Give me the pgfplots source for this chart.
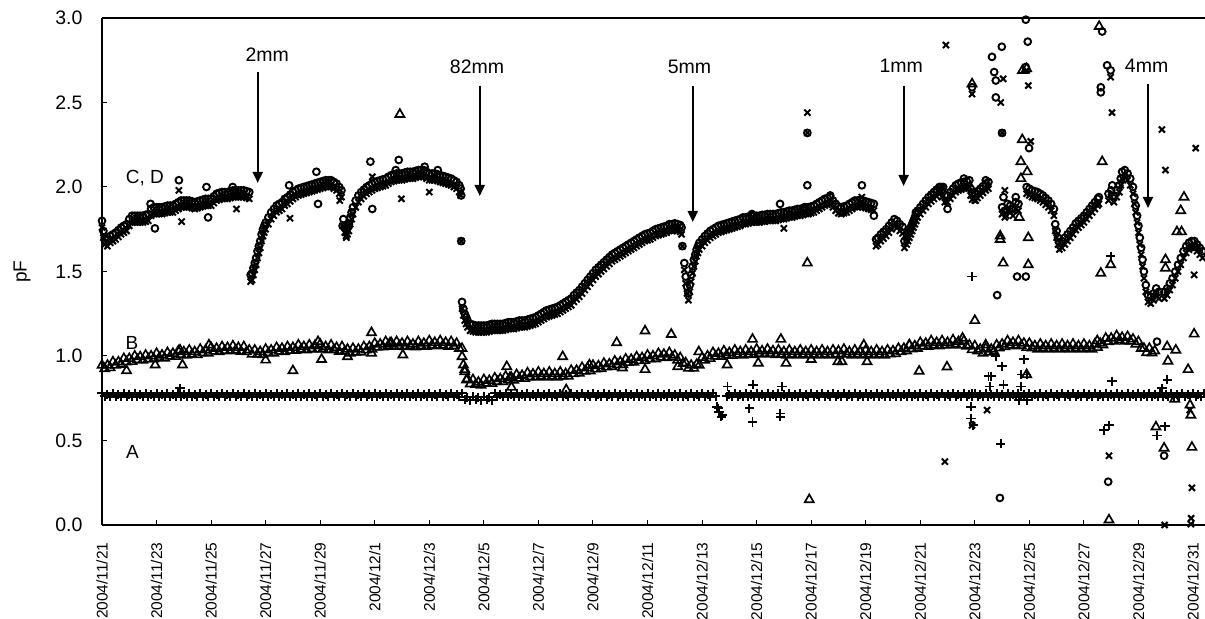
\documentclass[border=0pt]{standalone}
\usepackage{fontspec}
\setmainfont{Liberation Sans}
\usepackage{pgfplots}
\pgfplotsset{compat=1.18}
\usepackage{pgfplotstable}
\usetikzlibrary{calc,arrows.meta}

\pgfplotstableread{
t A B
0.0 0.780 0.945
0.1 0.762 0.925
0.2 0.775 0.945
0.3 0.758 0.930
0.4 0.780 0.965
0.5 0.762 0.945
0.6 0.775 0.965
0.7 0.758 0.950
0.8 0.780 0.985
0.9 0.762 0.965
1.0 0.775 0.985
1.1 0.758 0.967
1.2 0.780 1.000
1.3 0.762 0.978
1.4 0.775 0.995
1.5 0.758 0.975
1.6 0.780 1.005
1.7 0.762 0.982
1.8 0.775 1.000
1.9 0.758 0.983
2.0 0.780 1.015
2.1 0.762 0.990
2.2 0.775 1.005
2.3 0.758 0.987
2.4 0.780 1.020
2.5 0.762 0.998
2.6 0.775 1.015
2.7 0.758 0.997
2.8 0.780 1.030
2.9 0.762 1.008
3.0 0.775 1.025
3.1 0.758 1.005
3.2 0.780 1.035
3.3 0.762 1.010
3.4 0.775 1.025
3.5 0.758 1.007
3.6 0.780 1.040
3.7 0.762 1.018
3.8 0.775 1.035
3.9 0.758 1.017
4.0 0.780 1.050
4.1 0.762 1.028
4.2 0.775 1.045
4.3 0.758 1.025
4.4 0.780 1.055
4.5 0.762 1.032
4.6 0.775 1.050
4.7 0.758 1.030
4.8 0.780 1.060
4.9 0.762 1.035
5.0 0.775 1.050
5.1 0.758 1.027
5.2 0.780 1.055
5.3 0.762 1.025
5.4 0.775 1.035
5.5 0.758 1.010
5.6 0.780 1.035
5.7 0.762 1.010
5.8 0.775 1.025
5.9 0.758 1.007
6.0 0.780 1.040
6.1 0.762 1.018
6.2 0.775 1.035
6.3 0.758 1.017
6.4 0.780 1.050
6.5 0.762 1.028
6.6 0.775 1.045
6.7 0.758 1.025
6.8 0.780 1.055
6.9 0.762 1.032
7.0 0.775 1.050
7.1 0.758 1.033
7.2 0.780 1.065
7.3 0.762 1.040
7.4 0.775 1.055
7.5 0.758 1.035
7.6 0.780 1.065
7.7 0.762 1.042
7.8 0.775 1.060
7.9 0.758 1.040
8.0 0.780 1.070
8.1 0.762 1.042
8.2 0.775 1.055
8.3 0.758 1.035
8.4 0.780 1.065
8.5 0.762 1.038
8.6 0.775 1.050
8.7 0.758 1.027
8.8 0.780 1.055
8.9 0.762 1.028
9.0 0.775 1.040
9.1 0.758 1.017
9.2 0.780 1.045
9.3 0.762 1.022
9.4 0.775 1.040
9.5 0.758 1.023
9.6 0.780 1.055
9.7 0.762 1.035
9.8 0.775 1.055
9.9 0.758 1.040
10.0 0.780 1.075
10.1 0.762 1.052
10.2 0.775 1.070
10.3 0.758 1.053
10.4 0.780 1.085
10.5 0.762 1.062
10.6 0.775 1.080
10.7 0.758 1.057
10.8 0.780 1.085
10.9 0.762 1.060
11.0 0.775 1.075
11.1 0.758 1.055
11.2 0.780 1.085
11.3 0.762 1.058
11.4 0.775 1.070
11.5 0.758 1.053
11.6 0.780 1.085
11.7 0.762 1.060
11.8 0.775 1.075
11.9 0.758 1.057
12.0 0.780 1.090
12.1 0.762 1.065
12.2 0.775 1.080
12.3 0.758 1.060
12.4 0.780 1.090
12.5 0.762 1.065
12.6 0.775 1.080
12.7 0.758 1.057
12.8 0.780 1.085
12.9 0.762 1.060
13.0 0.775 1.075
13.1 0.758 1.045
13.2 0.780 1.045
13.3 0.742 0.920
13.4 0.755 0.865
13.5 0.738 0.835
13.6 0.760 0.860
13.7 0.742 0.832
13.8 0.755 0.845
13.9 0.738 0.827
14.0 0.760 0.860
14.1 0.742 0.838
14.2 0.755 0.855
14.3 0.738 0.837
14.4 0.780 0.870
14.5 0.762 0.848
14.6 0.775 0.865
14.7 0.758 0.847
14.8 0.780 0.880
14.9 0.762 0.858
15.0 0.775 0.875
15.1 0.758 0.857
15.2 0.780 0.890
15.3 0.762 0.868
15.4 0.775 0.885
15.5 0.758 0.867
15.6 0.780 0.900
15.7 0.762 0.876
15.8 0.775 0.893
15.9 0.758 0.874
16.0 0.780 0.905
16.1 0.762 0.880
16.2 0.775 0.895
16.3 0.758 0.875
16.4 0.780 0.905
16.5 0.762 0.880
16.6 0.775 0.895
16.7 0.758 0.875
16.8 0.780 0.905
16.9 0.762 0.880
17.0 0.775 0.895
17.1 0.758 0.880
17.2 0.780 0.915
17.3 0.762 0.895
17.4 0.775 0.915
17.5 0.758 0.898
17.6 0.780 0.932
17.7 0.762 0.910
17.8 0.775 0.929
17.9 0.758 0.912
18.0 0.780 0.945
18.1 0.762 0.923
18.2 0.775 0.942
18.3 0.758 0.925
18.4 0.780 0.957
18.5 0.762 0.935
18.6 0.775 0.953
18.7 0.758 0.937
18.8 0.780 0.970
18.9 0.762 0.948
19.0 0.775 0.965
19.1 0.758 0.948
19.2 0.780 0.982
19.3 0.762 0.961
19.4 0.775 0.980
19.5 0.758 0.963
19.6 0.780 0.995
19.7 0.762 0.972
19.8 0.775 0.990
19.9 0.758 0.973
20.0 0.780 1.005
20.1 0.762 0.982
20.2 0.775 1.000
20.3 0.758 0.983
20.4 0.780 1.015
20.5 0.762 0.992
20.6 0.775 1.010
20.7 0.758 0.990
20.8 0.780 1.020
20.9 0.762 0.992
21.0 0.775 1.005
21.1 0.758 0.975
21.2 0.780 0.990
21.3 0.762 0.955
21.4 0.775 0.960
21.5 0.758 0.927
21.6 0.780 0.945
21.7 0.762 0.927
21.8 0.775 0.950
21.9 0.758 0.945
22.0 0.780 0.990
22.1 0.762 0.975
22.2 0.775 1.000
22.3 0.758 0.985
22.4 0.780 1.020
22.5 0.762 0.998
22.6 nan 1.015
22.7 nan 0.997
22.8 nan 1.030
22.9 0.762 1.005
23.0 0.775 1.020
23.1 0.758 1.003
23.2 0.780 1.035
23.3 0.762 1.010
23.4 0.775 1.025
23.5 0.758 1.005
23.6 0.780 1.035
23.7 0.762 1.010
23.8 0.775 1.025
23.9 0.758 1.007
24.0 0.780 1.040
24.1 0.762 1.015
24.2 0.775 1.030
24.3 0.758 1.010
24.4 0.780 1.040
24.5 0.762 1.015
24.6 0.775 1.030
24.7 0.758 1.007
24.8 0.780 1.035
24.9 0.762 1.010
25.0 0.775 1.025
25.1 0.758 1.005
25.2 0.780 1.035
25.3 0.762 1.010
25.4 0.775 1.025
25.5 0.758 1.005
25.6 0.780 1.035
25.7 0.762 1.010
25.8 0.775 1.025
25.9 0.758 1.005
26.0 0.780 1.035
26.1 0.762 1.010
26.2 0.775 1.025
26.3 0.758 1.005
26.4 0.780 1.035
26.5 0.762 1.010
26.6 0.775 1.025
26.7 0.758 1.005
26.8 0.780 1.035
26.9 0.762 1.010
27.0 0.775 1.030
27.1 0.758 1.010
27.2 0.780 1.040
27.3 0.762 1.012
27.4 0.775 1.025
27.5 0.758 1.005
27.6 0.780 1.035
27.7 0.762 1.010
27.8 0.775 1.025
27.9 0.758 1.005
28.0 0.780 1.035
28.1 0.762 1.010
28.2 0.775 1.025
28.3 0.758 1.005
28.4 0.780 1.035
28.5 0.762 1.010
28.6 0.775 1.025
28.7 0.758 1.005
28.8 0.780 1.035
28.9 0.762 1.012
29.0 0.775 1.030
29.1 0.758 1.013
29.2 0.780 1.045
29.3 0.762 1.025
29.4 0.775 1.045
29.5 0.758 1.030
29.6 0.780 1.065
29.7 0.762 1.042
29.8 0.775 1.060
29.9 0.758 1.045
30.0 0.780 1.080
30.1 0.762 1.058
30.2 0.775 1.075
30.3 0.758 1.057
30.4 0.780 1.090
30.5 0.762 1.065
30.6 0.775 1.080
30.7 0.758 1.060
30.8 0.780 1.090
30.9 0.762 1.065
31.0 0.775 1.080
31.1 0.758 1.063
31.2 0.780 1.095
31.3 0.762 1.070
31.4 0.775 1.085
31.5 0.758 1.063
31.6 0.780 1.090
31.7 0.762 1.058
31.8 0.775 1.065
31.9 0.758 1.037
32.0 0.780 1.060
32.1 0.762 1.030
32.2 0.775 1.040
32.3 0.758 1.017
32.4 0.780 1.045
32.5 0.762 1.022
32.6 0.775 1.040
32.7 0.758 1.027
32.8 0.780 1.065
32.9 0.762 1.048
33.0 0.775 1.070
33.1 0.758 1.055
33.2 0.780 1.090
33.3 0.762 1.065
33.4 0.775 1.080
33.5 0.758 1.060
33.6 0.780 1.090
33.7 0.762 1.062
33.8 0.775 1.075
33.9 0.758 1.050
34.0 0.780 1.075
34.1 0.762 1.048
34.2 0.775 1.060
34.3 0.758 1.040
34.4 0.780 1.070
34.5 0.762 1.045
34.6 0.775 1.060
34.7 0.758 1.040
34.8 0.780 1.070
34.9 0.762 1.045
35.0 0.775 1.060
35.1 0.758 1.040
35.2 0.780 1.070
35.3 0.762 1.045
35.4 0.775 1.060
35.5 0.758 1.040
35.6 0.780 1.070
35.7 0.762 1.045
35.8 0.775 1.060
35.9 0.758 1.040
36.0 0.780 1.070
36.1 0.762 1.045
36.2 0.775 1.060
36.3 0.758 1.040
36.4 0.780 1.070
36.5 0.762 1.050
36.6 0.775 1.075
36.7 0.758 1.065
36.8 0.780 1.105
36.9 0.762 1.085
37.0 0.775 1.105
37.1 0.758 1.087
37.2 0.780 1.120
37.3 0.762 1.095
37.4 0.775 1.110
37.5 0.758 1.087
37.6 0.780 1.115
37.7 0.762 1.088
37.8 0.775 1.100
37.9 0.758 1.070
38.0 0.780 1.085
38.1 0.762 1.045
38.2 0.775 1.045
38.3 0.758 1.020
38.4 0.780 1.045
38.5 0.762 1.018
38.6 0.775 1.030
38.7 0.758 nan
38.8 0.780 nan
38.9 0.762 nan
39.0 0.775 nan
39.1 0.758 nan
39.2 0.780 nan
39.3 0.762 nan
39.4 0.775 nan
39.5 0.758 nan
39.6 0.780 nan
39.7 0.762 nan
39.8 0.775 nan
39.9 0.758 nan
40.0 0.780 nan
40.1 0.762 nan
40.2 0.775 nan
40.3 0.758 nan
40.4 0.780 nan
}\abtab

\pgfplotstableread{
t C D
0.00 1.80 1.76
0.05 1.74 1.70
0.10 1.70 1.66
0.20 1.69 1.65
0.30 1.71 1.67
0.40 1.72 1.68
0.50 1.73 1.69
0.60 1.745 1.705
0.70 1.76 1.72
0.80 1.77 1.73
0.90 1.78 1.74
1.00 1.81 1.77
1.10 1.83 1.79
1.20 1.83 1.79
1.30 1.83 1.79
1.40 1.83 1.79
1.50 1.83 1.79
1.60 1.835 1.795
1.70 1.84 1.80
1.80 1.87 1.83
1.90 1.88 1.84
2.00 1.88 1.84
2.10 1.88 1.84
2.20 1.88 1.84
2.30 1.885 1.845
2.40 1.89 1.85
2.50 1.89 1.85
2.60 1.89 1.85
2.70 1.90 1.86
2.80 1.91 1.87
2.90 1.92 1.88
3.00 1.92 1.88
3.10 1.92 1.88
3.20 1.92 1.88
3.30 1.915 1.875
3.40 1.91 1.87
3.50 1.915 1.875
3.60 1.92 1.88
3.70 1.925 1.885
3.80 1.93 1.89
3.90 1.93 1.89
4.00 1.93 1.89
4.10 1.945 1.905
4.20 1.96 1.92
4.30 1.965 1.925
4.40 1.97 1.93
4.50 1.97 1.93
4.60 1.97 1.93
4.70 1.975 1.935
4.80 1.98 1.94
4.90 1.98 1.94
5.00 1.98 1.94
5.10 1.98 1.94
5.20 1.98 1.94
5.30 1.975 1.935
5.40 1.97 1.93
5.45 1.48 1.44
5.50 1.49 1.45
5.55 1.52 1.48
5.60 1.55 1.51
5.65 1.58 1.54
5.70 1.62 1.58
5.75 1.65 1.61
5.80 1.68 1.64
5.85 1.72 1.68
5.90 1.75 1.71
5.95 1.77 1.73
6.00 1.79 1.75
6.10 1.82 1.78
6.20 1.85 1.81
6.30 1.87 1.83
6.40 1.89 1.85
6.50 1.90 1.86
6.60 1.91 1.87
6.70 1.93 1.89
6.80 1.94 1.90
6.90 1.955 1.915
7.00 1.97 1.93
7.10 1.98 1.94
7.20 1.99 1.95
7.30 1.995 1.955
7.40 2.00 1.96
7.50 2.005 1.965
7.60 2.01 1.97
7.70 2.015 1.975
7.80 2.02 1.98
7.90 2.025 1.985
8.00 2.03 1.99
8.10 2.035 1.995
8.20 2.04 2.00
8.30 2.04 2.00
8.40 2.04 2.00
8.50 2.03 1.99
8.60 2.02 1.98
8.70 2.00 1.96
8.78 1.98 1.94
8.85 1.81 1.77
8.90 1.77 1.73
8.95 1.75 1.71
9.00 1.76 1.72
9.05 1.78 1.74
9.10 1.82 1.78
9.15 1.85 1.81
9.20 1.88 1.84
9.30 1.92 1.88
9.40 1.95 1.91
9.50 1.97 1.93
9.60 1.985 1.945
9.70 2.00 1.96
9.80 2.01 1.97
9.90 2.02 1.98
10.0 2.03 1.99
10.1 2.035 1.995
10.2 2.04 2.00
10.3 2.045 2.005
10.4 2.05 2.01
10.5 2.06 2.02
10.6 2.07 2.03
10.7 2.075 2.035
10.8 2.08 2.04
10.9 2.08 2.04
11.0 2.08 2.04
11.1 2.085 2.045
11.2 2.09 2.05
11.3 2.09 2.05
11.4 2.09 2.05
11.5 2.095 2.055
11.6 2.10 2.06
11.7 2.10 2.06
11.8 2.10 2.06
11.9 2.09 2.05
12.0 2.08 2.04
12.1 2.08 2.04
12.2 2.08 2.04
12.3 2.075 2.035
12.4 2.07 2.03
12.5 2.065 2.025
12.6 2.06 2.02
12.7 2.055 2.015
12.8 2.05 2.01
12.9 2.04 2.00
13.0 2.03 1.99
13.1 2.01 1.97
13.15 1.99 1.95
13.20 1.32 1.28
13.25 1.28 1.24
13.30 1.25 1.21
13.35 1.23 1.19
13.40 1.21 1.17
13.50 1.19 1.15
13.60 1.185 1.145
13.70 1.18 1.14
13.80 1.18 1.14
13.90 1.18 1.14
14.0 1.18 1.14
14.1 1.18 1.14
14.2 1.185 1.145
14.3 1.19 1.15
14.4 1.19 1.15
14.5 1.19 1.15
14.6 1.19 1.15
14.7 1.19 1.15
14.8 1.195 1.155
14.9 1.20 1.16
15.0 1.20 1.16
15.1 1.20 1.16
15.2 1.205 1.165
15.3 1.21 1.17
15.4 1.21 1.17
15.5 1.21 1.17
15.6 1.215 1.175
15.7 1.22 1.18
15.8 1.225 1.185
15.9 1.23 1.19
16.0 1.24 1.20
16.1 1.25 1.21
16.2 1.26 1.22
16.3 1.27 1.23
16.4 1.275 1.235
16.5 1.28 1.24
16.6 1.285 1.245
16.7 1.29 1.25
16.8 1.30 1.26
16.9 1.31 1.27
17.0 1.32 1.28
17.1 1.33 1.29
17.2 1.34 1.30
17.3 1.36 1.32
17.4 1.375 1.335
17.5 1.39 1.35
17.6 1.41 1.37
17.7 1.43 1.39
17.8 1.45 1.41
17.9 1.47 1.43
18.0 1.49 1.45
18.1 1.51 1.47
18.2 1.525 1.485
18.3 1.54 1.50
18.4 1.555 1.515
18.5 1.57 1.53
18.6 1.585 1.545
18.7 1.60 1.56
18.8 1.61 1.57
18.9 1.62 1.58
19.0 1.63 1.59
19.1 1.64 1.60
19.2 1.65 1.61
19.3 1.66 1.62
19.4 1.67 1.63
19.5 1.68 1.64
19.6 1.69 1.65
19.7 1.70 1.66
19.8 1.71 1.67
19.9 1.72 1.68
20.0 1.725 1.685
20.1 1.73 1.69
20.2 1.74 1.70
20.3 1.75 1.71
20.4 1.755 1.715
20.5 1.76 1.72
20.6 1.765 1.725
20.7 1.77 1.73
20.8 1.78 1.74
20.9 1.78 1.74
21.0 1.785 1.745
21.1 1.78 1.74
21.2 1.775 1.735
21.25 1.76 1.72
21.35 1.55 1.51
21.40 1.47 1.43
21.45 1.41 1.37
21.50 1.37 1.33
21.55 1.42 1.38
21.60 1.48 1.44
21.65 1.53 1.49
21.70 1.57 1.53
21.75 1.60 1.56
21.80 1.63 1.59
21.85 1.65 1.61
21.90 1.67 1.63
22.00 1.69 1.65
22.10 1.71 1.67
22.20 1.725 1.685
22.30 1.74 1.70
22.40 1.75 1.71
22.50 1.76 1.72
22.60 1.77 1.73
22.70 1.775 1.735
22.80 1.78 1.74
22.90 1.785 1.745
23.0 1.79 1.75
23.1 1.795 1.755
23.2 1.80 1.76
23.3 1.805 1.765
23.4 1.81 1.77
23.5 1.82 1.78
23.6 1.82 1.78
23.7 1.825 1.785
23.8 1.83 1.79
23.9 1.83 1.79
24.0 1.83 1.79
24.1 1.83 1.79
24.2 1.835 1.795
24.3 1.835 1.795
24.4 1.84 1.80
24.5 1.84 1.80
24.6 1.84 1.80
24.7 1.84 1.80
24.8 1.845 1.805
24.9 1.85 1.81
25.0 1.85 1.81
25.1 1.855 1.815
25.2 1.86 1.82
25.3 1.86 1.82
25.4 1.865 1.825
25.5 1.87 1.83
25.6 1.87 1.83
25.7 1.875 1.835
25.8 1.88 1.84
25.9 1.88 1.84
26.0 1.885 1.845
26.1 1.89 1.85
26.2 1.90 1.86
26.3 1.91 1.87
26.4 1.92 1.88
26.5 1.93 1.89
26.6 1.935 1.895
26.7 1.94 1.90
26.8 1.92 1.88
26.9 1.90 1.86
27.0 1.885 1.845
27.1 1.88 1.84
27.2 1.885 1.845
27.3 1.89 1.85
27.4 1.90 1.86
27.5 1.91 1.87
27.6 1.92 1.88
27.7 1.92 1.88
27.8 1.925 1.885
27.9 1.92 1.88
28.0 1.915 1.875
28.1 1.91 1.87
28.2 1.905 1.865
28.3 1.90 1.86
28.38 1.69 1.65
28.45 1.70 1.66
28.55 1.72 1.68
28.65 1.735 1.695
28.75 1.75 1.71
28.85 1.77 1.73
28.95 1.79 1.75
29.05 1.81 1.77
29.15 1.80 1.76
29.25 1.78 1.74
29.35 1.765 1.725
29.42 1.68 1.64
29.50 1.70 1.66
29.55 1.72 1.68
29.60 1.74 1.70
29.65 1.76 1.72
29.70 1.78 1.74
29.75 1.80 1.76
29.80 1.82 1.78
29.85 1.84 1.80
29.90 1.86 1.82
30.00 1.88 1.84
30.10 1.90 1.86
30.20 1.92 1.88
30.30 1.94 1.90
30.40 1.955 1.915
30.50 1.97 1.93
30.60 1.985 1.945
30.70 2.00 1.96
30.80 1.98 1.94
30.90 1.95 1.91
31.00 1.95 1.91
31.10 1.97 1.93
31.20 1.99 1.95
31.30 2.01 1.97
31.40 2.02 1.98
31.50 2.025 1.985
31.60 2.03 1.99
31.70 2.035 1.995
31.80 2.04 2.00
31.85 1.99 1.95
31.90 1.965 1.925
32.00 1.96 1.92
32.10 1.975 1.935
32.20 1.99 1.95
32.30 2.005 1.965
32.40 2.02 1.98
32.50 2.03 1.99
33.00 1.88 1.84
33.10 1.86 1.82
33.20 1.90 1.86
33.30 1.89 1.85
33.40 1.87 1.83
33.50 1.91 1.87
33.60 1.90 1.86
33.90 2.00 1.96
34.00 1.99 1.95
34.10 1.98 1.94
34.20 1.975 1.935
34.30 1.97 1.93
34.40 1.96 1.92
34.50 1.95 1.91
34.60 1.935 1.895
34.70 1.92 1.88
34.80 1.90 1.86
34.90 1.87 1.83
34.95 1.78 1.74
35.00 1.74 1.70
35.05 1.70 1.66
35.10 1.67 1.63
35.20 1.68 1.64
35.30 1.70 1.66
35.40 1.72 1.68
35.50 1.74 1.70
35.60 1.76 1.72
35.70 1.785 1.745
35.80 1.80 1.76
35.90 1.815 1.775
36.00 1.83 1.79
36.10 1.85 1.81
36.20 1.87 1.83
36.30 1.89 1.85
36.40 1.91 1.87
36.50 1.93 1.89
36.55 1.94 1.90
36.90 1.96 1.92
37.00 1.98 1.94
37.10 1.95 1.91
37.20 1.98 1.94
37.30 2.01 1.97
37.35 2.05 2.01
37.40 2.09 2.05
37.50 2.10 2.06
37.60 2.08 2.04
37.70 2.05 2.01
37.80 2.00 1.96
37.85 1.94 1.90
37.90 1.89 1.85
37.95 1.83 1.79
38.00 1.77 1.73
38.05 1.70 1.66
38.10 1.64 1.60
38.15 1.57 1.53
38.20 1.50 1.46
38.27 1.42 1.38
38.35 1.36 1.32
38.45 1.35 1.31
38.55 1.37 1.33
38.65 1.40 1.36
38.75 1.38 1.34
38.95 1.38 1.34
39.05 1.40 1.36
39.15 1.43 1.39
39.25 1.46 1.42
39.35 1.50 1.46
39.45 1.54 1.50
39.55 1.58 1.54
39.65 1.62 1.58
39.75 1.65 1.61
39.85 1.67 1.63
39.95 1.68 1.64
40.05 1.68 1.64
40.15 1.66 1.62
40.25 1.64 1.60
40.35 1.62 1.58
}\cdtab

\begin{document}
\begin{tikzpicture}
\begin{axis}[
  name=ax,
  scale only axis, width=1103pt, height=507pt,
  xmin=0, xmax=40.44, ymin=0, ymax=3,
  axis x line*=bottom, axis y line*=left,
  axis line style={line width=1.6pt, black},
  tick align=inside, major tick length=5pt,
  tick style={line width=1pt, black},
  xtick={0,2,4,6,8,10,12,14,16,18,20,22,24,26,28,30,32,34,36,38,40},
  xticklabels={2004/11/21,2004/11/23,2004/11/25,2004/11/27,2004/11/29,2004/12/1,2004/12/3,2004/12/5,2004/12/7,2004/12/9,2004/12/11,2004/12/13,2004/12/15,2004/12/17,2004/12/19,2004/12/21,2004/12/23,2004/12/25,2004/12/27,2004/12/29,2004/12/31},
  xticklabel style={font=\fontsize{15.5}{18}\selectfont, yshift=-14pt, rotate=90, anchor=east},
  ytick={0,0.5,1,1.5,2,2.5,3},
  yticklabel style={/pgf/number format/fixed, /pgf/number format/fixed zerofill, /pgf/number format/precision=1, font=\fontsize{19.5}{23}\selectfont, xshift=-16pt},
  /pgf/number format/assume math mode=true,
  clip=false,
]
\addplot[only marks, mark=+, mark size=4.5pt, mark options={line width=2pt, black}] table[x=t, y=A] {\abtab};
\addplot[only marks, mark=triangle, mark size=5.2pt, mark options={line width=1.6pt, black}] table[x=t, y=B] {\abtab};
\addplot[only marks, mark=o, mark size=3.4pt, mark options={line width=1.9pt, black}] table[x=t, y=C] {\cdtab};
\addplot[only marks, mark=x, mark size=4.3pt, mark options={line width=2pt, black}] table[x=t, y=D] {\cdtab};

% A outliers
\addplot[only marks, mark=+, mark size=4.6pt, mark options={line width=1.8pt, black}] coordinates {
(2.86,0.81) (22.55,0.70) (22.62,0.67) (22.7,0.64) (22.75,0.65) (22.93,0.82) (22.6,0.69)
(23.73,0.69) (23.85,0.61) (23.87,0.83) (24.87,0.66) (24.87,0.64) (24.93,0.82)
(31.86,0.63) (31.86,0.70) (31.9,0.78) (32.5,0.88) (32.6,0.88) (32.55,0.82) (33.0,0.94) (33.05,0.83)
(32.77,1.0) (33.8,0.98) (33.7,0.89) (33.9,0.89) (33.69,0.82) (33.62,0.74) (33.9,0.74) (32.95,0.48)
(31.9,1.47) (31.94,0.59) (37.03,0.85) (39.05,0.86) (38.86,0.81) (36.92,0.59) (36.74,0.56)
(38.68,0.53) (38.97,0.585) (36.98,1.59)};
% B outliers
\addplot[only marks, mark=triangle, mark size=5.2pt, mark options={line width=1.7pt, black}] coordinates {
(0.9,0.913) (1.95,0.947) (2.95,0.947) (2.86,1.035) (3.92,1.065) (6.0,0.976) (7.0,0.913) (7.92,1.085)
(8.05,0.98) (9.0,0.996) (9.88,1.138) (9.88,1.017) (10.55,1.075) (10.92,2.43) (11.03,1.006)
(13.2,0.996) (13.25,0.947) (13.3,0.907) (13.36,0.858) (14.84,0.937) (14.95,0.87) (15.01,0.815)
(16.89,0.996) (17.02,0.80) (17.87,0.947) (18.87,1.079) (19.91,1.148) (19.91,0.92) (20.87,1.128)
(21.11,0.937) (21.88,1.025) (22.92,0.947) (23.85,1.099) (24.89,1.099) (25.08,0.957) (24.06,0.958)
(19.08,0.93) (26.0,0.98) (26.98,0.966) (27.13,0.966) (27.93,1.065) (28.05,0.966) (29.6,1.065)
(31.55,1.105) (32.4,1.065) (36.49,1.09) (25.86,1.55) (25.93,0.15) (32.0,1.21) (29.96,0.91)
(30.98,0.935) (33.9,0.89) (33.74,2.28) (33.69,2.15) (33.92,2.09) (33.69,2.05) (33.63,1.82)
(32.93,1.71) (32.93,1.69) (33.96,1.70) (33.04,1.55) (33.96,1.54) (31.9,2.61) (33.9,2.70)
(33.75,2.69) (36.56,2.95) (36.67,2.15) (36.62,1.49) (36.98,1.54) (39.67,1.94) (39.55,1.86)
(39.41,1.735) (39.58,1.735) (38.99,1.57) (38.99,1.52) (40.1,1.65) (38.64,0.58) (38.94,0.455)
(36.92,0.03) (39.96,0.46) (39.89,0.71) (39.92,0.65) (39.33,0.745) (39.05,1.055) (39.37,1.035)
(39.08,0.97) (39.82,0.92) (40.04,1.13)};
% C outliers
\addplot[only marks, mark=o, mark size=3.4pt, mark options={line width=1.9pt, black}] coordinates {
(1.94,1.755) (3.89,1.82) (2.82,2.04) (1.78,1.90) (3.83,2.0) (4.79,2.0) (6.86,2.01) (7.86,2.09)
(7.92,1.90) (8.82,1.77) (9.84,2.15) (9.91,1.87) (10.88,2.16) (10.77,2.10) (11.83,2.12) (12.31,2.10)
(13.17,1.95) (13.17,1.68) (21.28,1.65) (23.83,1.84) (24.86,1.90) (25.75,1.88) (25.86,2.32)
(25.86,2.01) (26.7,1.95) (27.86,2.01) (28.3,1.83) (29.84,1.85) (30.76,2.0) (30.84,2.0) (31.0,1.87)
(31.6,2.05) (32.4,2.04) (31.9,2.59) (32.63,2.77) (32.99,2.83) (32.71,2.68) (32.77,2.63) (32.77,2.53)
(33.0,2.32) (33.05,1.94) (33.5,1.94) (33.87,2.99) (33.94,2.86) (33.87,2.71) (33.99,2.23)
(33.55,1.47) (33.87,1.47) (32.82,1.36) (32.92,0.16) (36.67,2.92) (36.85,2.72) (36.98,2.69)
(36.62,2.59) (36.62,2.56) (36.89,0.256) (38.68,1.085) (38.94,0.41) (37.04,2.01)};
% D outliers
\addplot[only marks, mark=x, mark size=4.3pt, mark options={line width=2pt, black}] coordinates {
(2.92,1.795) (4.93,1.87) (2.82,1.98) (6.89,1.815) (8.72,1.92) (8.96,1.70) (9.91,2.06) (10.98,1.93)
(12.0,1.97) (13.17,1.68) (21.28,1.65) (25.0,1.755) (25.86,2.44) (25.86,2.32) (27.86,1.94)
(32.03,1.92) (33.1,1.98) (33.15,1.83) (30.94,2.84) (31.9,2.55) (33.04,2.64) (32.95,2.50)
(33.0,2.32) (33.96,2.60) (33.9,2.69) (34.05,2.27) (36.98,2.65) (37.03,2.44) (38.86,2.34)
(40.1,2.23) (38.99,2.10) (30.9,0.375) (31.9,0.59) (32.45,0.68) (36.92,0.41) (38.96,0.0)
(39.96,0.22) (39.93,0.04) (39.92,0.005) (39.88,0.68) (40.04,1.48)};

\draw[line width=1.6pt] (rel axis cs:0,1) -- (rel axis cs:1,1);

\node[font=\fontsize{19}{23}\selectfont] at (axis cs:1.575,2.05) {C, D};
\node[font=\fontsize{19}{23}\selectfont] at (axis cs:1.10,1.08) {B};
\node[font=\fontsize{19}{23}\selectfont] at (axis cs:1.12,0.432) {A};

\node[font=\fontsize{19.5}{23}\selectfont] at (axis cs:6.06,2.78) {2mm};
\node[font=\fontsize{19.5}{23}\selectfont] at (axis cs:13.75,2.71) {82mm};
\node[font=\fontsize{19.5}{23}\selectfont] at (axis cs:21.54,2.71) {5mm};
\node[font=\fontsize{19.5}{23}\selectfont] at (axis cs:29.3,2.72) {1mm};
\node[font=\fontsize{19.5}{23}\selectfont] at (axis cs:38.3,2.72) {4mm};
\draw[line width=2pt, -{Triangle[length=11pt,width=10pt]}] (axis cs:5.71,2.68) -- (axis cs:5.71,2.024);
\draw[line width=2pt, -{Triangle[length=11pt,width=10pt]}] (axis cs:13.85,2.60) -- (axis cs:13.85,1.947);
\draw[line width=2pt, -{Triangle[length=11pt,width=10pt]}] (axis cs:21.66,2.60) -- (axis cs:21.66,1.793);
\draw[line width=2pt, -{Triangle[length=11pt,width=10pt]}] (axis cs:29.39,2.598) -- (axis cs:29.39,2.006);
\draw[line width=2pt, -{Triangle[length=11pt,width=10pt]}] (axis cs:38.35,2.61) -- (axis cs:38.35,1.876);
\end{axis}
\node[rotate=90, font=\fontsize{19}{23}\selectfont] at ($(ax.south west)!0.5!(ax.north west)+(-80pt,0)$) {pF};
\pgfresetboundingbox
\path[use as bounding box] ($(ax.south west)+(-102pt,-94pt)$) rectangle ($(ax.north east)+(0pt,18pt)$);
\end{tikzpicture}
\end{document}
